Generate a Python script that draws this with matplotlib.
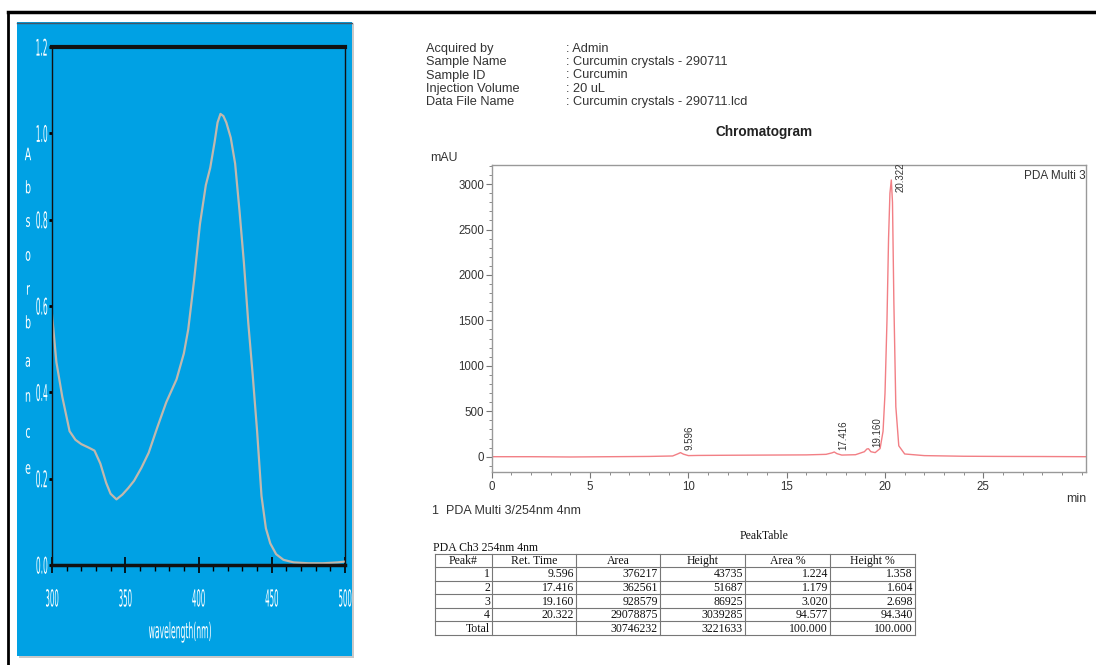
import matplotlib.pyplot as plt
import numpy as np
from matplotlib import patches
from matplotlib.patheffects import AbstractPathEffect
from matplotlib.ticker import MultipleLocator
from matplotlib.transforms import Affine2D

# UV-vis absorbance spectrum (left panel)
wavelength = [300, 303, 307, 312, 316, 320, 325, 329, 333, 337, 340, 344, 348,
              352, 356, 361, 366, 372, 378, 385, 390, 393, 397, 401, 405, 408,
              411, 413, 415, 417, 419, 422, 425, 428, 431, 434, 437, 440, 443,
              446, 449, 453, 458, 465, 475, 485, 495, 500]
absorbance = [0.58, 0.47, 0.39, 0.31, 0.29, 0.28, 0.272, 0.265, 0.235, 0.19,
              0.165, 0.152, 0.163, 0.178, 0.195, 0.225, 0.26, 0.32, 0.377, 0.43,
              0.49, 0.546, 0.66, 0.79, 0.88, 0.92, 0.98, 1.025, 1.045, 1.04,
              1.025, 0.99, 0.93, 0.82, 0.70, 0.56, 0.44, 0.31, 0.16, 0.085,
              0.05, 0.025, 0.012, 0.006, 0.004, 0.004, 0.006, 0.008]

# HPLC chromatogram trace (right panel)
ret_time = [0, 2, 4, 6, 8, 9.2, 9.45, 9.6, 9.75, 10.0, 10.5, 12, 14, 16, 17.0,
            17.3, 17.42, 17.55, 17.8, 18.5, 18.95, 19.08, 19.16, 19.28, 19.5,
            19.75, 19.9, 20.0, 20.1, 20.18, 20.25, 20.32, 20.38, 20.45, 20.55,
            20.7, 21.0, 22, 24, 26, 28, 30.2]
signal = [0, 0, -3, 0, 3, 8, 30, 45, 28, 12, 14, 16, 18, 20, 26, 42, 52, 34, 18,
          22, 55, 85, 88, 55, 45, 90, 280, 700, 1500, 2400, 2900, 3045, 2800,
          1700, 550, 120, 30, 12, 5, 3, 2, 0]

peak_no = ['1', '2', '3', '4', 'Total']
peak_rt = ['9.596', '17.416', '19.160', '20.322', '']
peak_area = ['376217', '362561', '928579', '29078875', '30746232']
peak_height = ['43735', '51687', '86925', '3039285', '3221633']
area_pct = ['1.224', '1.179', '3.020', '94.577', '100.000']
height_pct = ['1.358', '1.604', '2.698', '94.340', '100.000']
table_cols = ['Peak#', 'Ret. Time', 'Area', 'Height', 'Area %', 'Height %']

info_keys = ['Acquired by', 'Sample Name', 'Sample ID', 'Injection Volume',
             'Data File Name']
info_vals = [': Admin', ': Curcumin crystals - 290711', ': Curcumin', ': 20 uL',
             ': Curcumin crystals - 290711.lcd']

W, H = 1096, 665
BLUE = '#00a1e4'
SANS = 'Liberation Sans'
SERIF = 'Liberation Serif'
TXT = '#333333'


class Squeeze(AbstractPathEffect):
    """Draw text glyphs narrower and taller (condensed look)."""

    def __init__(self, sx, sy, anchor='center'):
        super().__init__()
        self.sx, self.sy, self.anchor = sx, sy, anchor

    def draw_path(self, renderer, gc, tpath, affine, rgbFace=None):
        ext = tpath.get_extents(affine)
        cx = {'left': ext.x0, 'right': ext.x1}.get(self.anchor, (ext.x0 + ext.x1) / 2)
        cy = (ext.y0 + ext.y1) / 2
        squeeze = Affine2D().translate(-cx, -cy).scale(self.sx, self.sy).translate(cx, cy)
        renderer.draw_path(gc, tpath, affine + squeeze, rgbFace)


def box(x0, y0, x1, y1):
    return [x0 / W, 1 - y1 / H, (x1 - x0) / W, (y1 - y0) / H]


fig = plt.figure(figsize=(W / 100, H / 100), dpi=100)

# background layer in pixel coordinates
bg = fig.add_axes([0, 0, 1, 1])
bg.set_xlim(0, W)
bg.set_ylim(H, 0)
bg.axis('off')
bg.plot([8, 8], [12, H], color='black', lw=2)
bg.plot([8, W], [12, 12], color='black', lw=2.5)
bg.add_patch(patches.Rectangle((19, 24), 335, 634, color='#c9c9c9', lw=0))
bg.add_patch(patches.Rectangle((17, 22), 335, 634, color=BLUE, lw=0))
bg.plot([17, 352], [22.5, 22.5], color='#445566', lw=1)

# --- left: absorbance spectrum
ax1 = fig.add_axes(box(52, 47, 345, 565))
ax1.set_facecolor(BLUE)
ax1.plot(wavelength, absorbance, color='#c2b8ad', lw=1.6)
ax1.set_xlim(300, 500)
ax1.set_ylim(0, 1.2)
ax1.set_xticks([300, 350, 400, 450, 500])
ax1.xaxis.set_minor_locator(MultipleLocator(10))
ax1.set_yticks([0, 0.2, 0.4, 0.6, 0.8, 1.0, 1.2])
ax1.set_yticklabels(['0.0', '0.2', '0.4', '0.6', '0.8', '1.0', '1.2'])
ax1.tick_params(axis='x', which='major', direction='inout', length=12, width=1.2,
                color='black', labelcolor='white', labelsize=12, pad=12)
ax1.tick_params(axis='x', which='minor', direction='out', length=4, width=1,
                color='black')
ax1.tick_params(axis='y', direction='out', length=2, width=2, color='black',
                labelcolor='white', labelsize=7.5, pad=1)
for lab in ax1.get_xticklabels():
    lab.set_path_effects([Squeeze(0.42, 1.4)])
for lab in ax1.get_yticklabels():
    lab.set_path_effects([Squeeze(0.72, 2.2, 'right')])
ax1.spines['top'].set_linewidth(3)
ax1.spines['bottom'].set_linewidth(2.5)
ax1.spines['left'].set_linewidth(1)
ax1.spines['right'].set_linewidth(1)
for s in ax1.spines.values():
    s.set_color('#111111')
ax1.set_xlabel('wavelength(nm)', color='white', fontsize=12, va='center',
               path_effects=[Squeeze(0.46, 1.3)])
ax1.xaxis.set_label_coords(0.437, -0.129)
for ch, yy in zip('Absorbance', [155, 188, 222, 256, 290, 323, 362, 397, 433, 469]):
    bg.text(28, yy, ch, color='white', fontsize=8, ha='center', va='center',
            path_effects=[Squeeze(0.85, 1.55)])

# --- right: chromatogram header
for i, (k, v) in enumerate(zip(info_keys, info_vals)):
    bg.text(426, 49 + 13.25 * i, k, fontsize=9.2, family=SANS, color=TXT,
            va='center')
    bg.text(566, 49 + 13.25 * i, v, fontsize=9.2, family=SANS, color=TXT,
            va='center')
bg.text(764, 132, 'Chromatogram', fontsize=9.8, family=SANS, weight='bold',
        color='#222222', ha='center', va='center')
bg.text(430, 158, 'mAU', fontsize=8.8, family=SANS, color=TXT, va='center')

ax2 = fig.add_axes(box(491.7, 165, 1086, 471.7))
ax2.plot(ret_time, signal, color='#f27f85', lw=1)
ax2.set_xlim(0, 30.22)
ax2.set_ylim(-165, 3210)
ax2.set_xticks([0, 5, 10, 15, 20, 25])
ax2.xaxis.set_minor_locator(MultipleLocator(1))
ax2.set_yticks([0, 500, 1000, 1500, 2000, 2500, 3000])
ax2.yaxis.set_minor_locator(MultipleLocator(100))
ax2.tick_params(which='major', length=4, width=0.8, color='#777777',
                labelcolor=TXT, labelsize=8.3, pad=1.5)
ax2.tick_params(which='minor', length=2, width=0.6, color='#777777')
ax2.tick_params(axis='x', pad=3)
for lab in ax2.get_xticklabels() + ax2.get_yticklabels():
    lab.set_family(SANS)
for s in ax2.spines.values():
    s.set_color('#999999')
    s.set_linewidth(1)

# peak labels
label_t = [9.596, 17.416, 19.160]
label_h = [43.7, 51.7, 86.9]
for t, h, s in zip(label_t, label_h, peak_rt[:3]):
    ax2.text(t + 0.45, h + 25, s, rotation=90, fontsize=7, family=SANS,
             color=TXT, ha='center', va='bottom')
ax2.text(20.322 + 0.45, 3070, peak_rt[3], rotation=90, fontsize=7, family=SANS,
         color=TXT, ha='center', va='center', clip_on=False)
ax2.text(1.0, 0.985, 'PDA Multi 3', transform=ax2.transAxes, fontsize=8.5,
         family=SANS, color=TXT, ha='right', va='top')
bg.text(1086, 499, 'min', fontsize=8.8, family=SANS, color=TXT, ha='right',
        va='center')
bg.text(432, 511, '1  PDA Multi 3/254nm 4nm', fontsize=9, family=SANS,
        color=TXT, va='center')

# --- peak table
bg.text(764, 536, 'PeakTable', fontsize=8.5, family=SERIF, color='#111111',
        ha='center', va='center')
bg.text(433, 548, 'PDA Ch3 254nm 4nm', fontsize=8.5, family=SERIF,
        color='#111111', va='center')
col_x = [435, 492, 576, 660, 745, 830, 915]
row_y = np.linspace(553.5, 635, 7)
for x in col_x:
    bg.plot([x, x], [row_y[0], row_y[-1]], color='#777777', lw=0.8)
for y in row_y:
    bg.plot([col_x[0], col_x[-1]], [y, y], color='#777777', lw=0.8)
for j, name in enumerate(table_cols):
    bg.text((col_x[j] + col_x[j + 1]) / 2, (row_y[0] + row_y[1]) / 2 + 0.5, name,
            fontsize=8.5, family=SERIF, color='#111111', ha='center',
            va='center')
columns = [peak_no, peak_rt, peak_area, peak_height, area_pct, height_pct]
for j, col in enumerate(columns):
    for i, val in enumerate(col):
        bg.text(col_x[j + 1] - 2, (row_y[i + 1] + row_y[i + 2]) / 2 + 0.5, val,
                fontsize=8.5, family=SERIF, color='#111111', ha='right',
                va='center')

fig.savefig('out.png', dpi=100)
